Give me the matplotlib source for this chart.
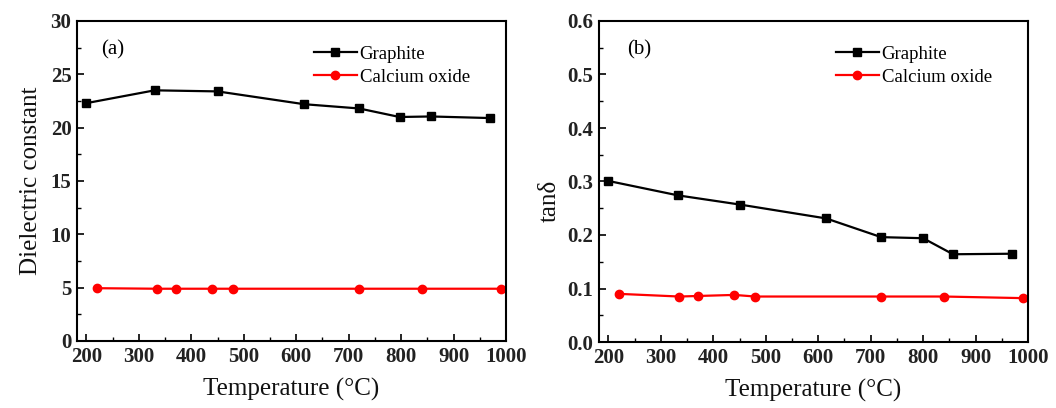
import matplotlib
matplotlib.use("Agg")
import matplotlib.pyplot as plt
from matplotlib.ticker import MultipleLocator

plt.rcParams['font.family'] = ['Liberation Serif', 'DejaVu Serif']
plt.rcParams['mathtext.fontset'] = 'stix'

# Panel (a): dielectric constant
graphite_T_a = [200, 330, 450, 615, 720, 797, 857, 970]
graphite_eps = [22.3, 23.5, 23.4, 22.2, 21.8, 21.0, 21.05, 20.9]
cao_T_a = [220, 335, 370, 440, 480, 720, 840, 990]
cao_eps = [4.95, 4.9, 4.9, 4.9, 4.9, 4.9, 4.9, 4.9]

# Panel (b): loss tangent
graphite_T_b = [200, 333, 450, 615, 720, 800, 857, 970]
graphite_tan = [0.301, 0.274, 0.257, 0.231, 0.196, 0.194, 0.164, 0.165]
cao_T_b = [220, 335, 370, 440, 480, 720, 840, 990]
cao_tan = [0.090, 0.085, 0.086, 0.088, 0.085, 0.085, 0.085, 0.082]

x_ticks = [200, 300, 400, 500, 600, 700, 800, 900, 1000]

fig = plt.figure(figsize=(10.56, 4.08), dpi=100)
W, H = 1056, 408
ax1 = fig.add_axes([77 / W, 1 - 341 / H, (506 - 77) / W, (341 - 21) / H])
ax2 = fig.add_axes([599 / W, 1 - 342 / H, (1028 - 599) / W, (342 - 21) / H])

def style(ax, ylim, ymaj, ymin, ylabel, panel, yfmt, panel_x):
    ax.set_xlim(182, 1000)
    ax.set_ylim(*ylim)
    ax.set_xticks(x_ticks)
    ax.xaxis.set_minor_locator(MultipleLocator(50))
    ax.yaxis.set_major_locator(MultipleLocator(ymaj))
    ax.yaxis.set_minor_locator(MultipleLocator(ymin))
    ax.yaxis.set_major_formatter(plt.FuncFormatter(lambda v, p: yfmt.format(v)))
    ax.tick_params(which='both', direction='in', top=False, right=False)
    ax.tick_params(which='major', length=5, width=1.2, labelsize=15, pad=4,
                   labelcolor='#222222')
    ax.tick_params(which='minor', length=3, width=1.0)
    for s in ax.spines.values():
        s.set_linewidth(1.5)
    ax.set_xlabel('Temperature (°C)', fontsize=18, labelpad=8, color='#111111')
    ax.set_ylabel(ylabel, fontsize=18, labelpad=6, color='#111111')
    ax.text(panel_x, 0.895, panel, transform=ax.transAxes, fontsize=15)
    ax.legend(loc='upper right', frameon=False, fontsize=13.5,
              bbox_to_anchor=(0.955, 0.975), handlelength=2.3,
              handletextpad=0.15, labelspacing=0.3)

ax1.plot(graphite_T_a, graphite_eps, color='black', marker='s', ms=6, lw=1.6, label='Graphite')
ax1.plot(cao_T_a, cao_eps, color='red', marker='o', ms=6, lw=1.6, label='Calcium oxide')
style(ax1, (0, 30), 5, 2.5, 'Dielectric constant', '(a)', '{:.0f}', 0.056)

ax2.plot(graphite_T_b, graphite_tan, color='black', marker='s', ms=6, lw=1.6, label='Graphite')
ax2.plot(cao_T_b, cao_tan, color='red', marker='o', ms=6, lw=1.6, label='Calcium oxide')
style(ax2, (0, 0.6), 0.1, 0.05, 'tanδ', '(b)', '{:.1f}', 0.066)
ax2.yaxis.set_label_coords(-0.088, 0.44)

for ax in (ax1, ax2):
    for lbl in ax.get_xticklabels() + ax.get_yticklabels():
        lbl.set_fontweight('bold')

fig.savefig('out.png', dpi=100)
